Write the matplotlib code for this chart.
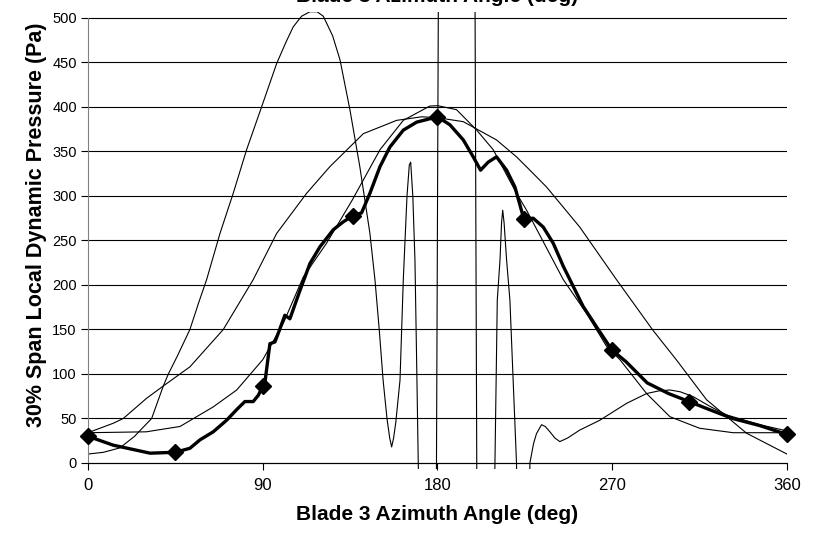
import matplotlib
matplotlib.use("Agg")
import matplotlib.pyplot as plt
from matplotlib import font_manager

plt.rcParams['font.family'] = ['Liberation Sans', 'DejaVu Sans']

# --- measured series (deg, Pa) ---
meas_x = [0, 13, 32, 45, 52.5, 57.7, 64.5, 71.4, 76.6, 80.8, 85.1, 87.7, 90, 91.1,
          93.7, 96.3, 98.9, 101.4, 104, 109.2, 114.3, 119.5, 126.3, 131.5, 136.6,
          140.9, 145.2, 150.4, 155.5, 162.4, 169.3, 180, 186.4, 193.3, 198.4, 202.2,
          206.1, 210.4, 215.6, 219.9, 224.5, 229.3, 234.5, 239.6, 244.8, 248.2, 255,
          261.9, 269.8, 277, 288, 299, 309.6, 320, 332, 346, 360]
meas_y = [30, 20, 11, 12, 16.5, 26, 35, 48, 60, 69, 69, 76, 86, 90,
          134, 136, 151, 166, 162, 194, 224, 243, 262, 271, 278,
          281, 303, 333, 355, 374, 383, 389, 380, 363, 344, 329,
          338, 344, 329, 310, 274, 275, 265, 247, 221, 206, 176,
          153, 127, 114, 90, 78, 69, 60, 50, 42, 32]

# points that carry a marker
mark_x = [0, 45, 90, 136.6, 180, 224.5, 269.8, 309.6, 360]
mark_y = [30, 12, 86, 278, 389, 274, 127, 69, 32]

# narrow bell curve
narrow_x = [0, 30, 47.4, 64.5, 76.6, 90, 100.6, 110.9, 122.9, 136, 150.4, 162.4, 176,
            180, 189.8, 200.2, 208.7, 220.7, 225.9, 244.8, 256.8, 267.1, 274, 287.7,
            299.7, 315, 332.3, 360]
narrow_y = [34, 35, 41, 63, 82, 116, 157, 209, 247, 295, 352, 385, 401,
            401.5, 397, 374, 352, 303, 284, 206, 168, 131, 116, 78,
            52, 39, 34, 34]

# broad bell curve
broad_x = [0, 13, 18.2, 30.2, 38.8, 52.5, 69.7, 85.1, 97.2, 112.6, 124.6, 141.8, 159,
           172, 180, 193.3, 210.4, 220.7, 227.6, 236.2, 253.3, 272.2, 291, 303,
           318.6, 329, 339.2, 360]
broad_y = [34, 44.6, 50, 72.7, 86.5, 108, 150, 206, 258, 303, 333, 370, 385,
           389, 388, 383.5, 363, 344, 329, 310, 265, 206, 149, 116,
           71, 52, 33.4, 10]

# oscillating fit curve
wild_x = [0, 8, 16.5, 24, 32.8, 38.8, 41.4, 46, 52.5, 57, 61.1, 68, 74.8, 81.7, 89.4,
          97.2, 102, 105.7, 110, 114.3, 118, 121.2, 126, 129.8, 134.9, 140, 145.2, 147.8,
          150, 152, 154, 155.4, 156.4, 157.4, 158.5, 160.7, 162.4, 164.3, 165.5, 166.2,
          167.3, 168.4, 169.3, 170.1, 171, 179.3, 180.6, 199.2, 200.4, 209, 209.6, 210.8,
          212.2, 213, 213.6, 214.3, 215.6, 217.3, 220.7, 221.5, 227, 227.6, 229.5, 231,
          233.6, 235.5, 237.9, 240.5, 243, 247, 253.3, 263.6, 277.4, 287.7, 294, 299.7,
          305, 311.7, 320, 328.9, 346, 360]
wild_y = [10, 12, 17, 30, 50, 86.5, 100, 120, 150, 180, 206, 258, 303, 352, 400,
          449, 473, 490, 502, 507, 507, 502, 480, 453, 397, 333, 258, 206,
          150, 93, 50, 28, 18, 28, 45, 93, 206, 300, 335, 338,
          300, 228, 110, 0, -100, -100, 600, 600, -100, -100, 0, 183,
          228, 270, 284, 270, 228, 183, 0, -100, -100, 0, 22, 33,
          43, 41, 35, 28, 24, 28, 37, 48, 67, 78, 81, 82,
          80, 74.5, 64, 54, 43, 36]

x_ticks = [0, 90, 180, 270, 360]
y_ticks = [0, 50, 100, 150, 200, 250, 300, 350, 400, 450, 500]

fig = plt.figure(figsize=(8.13, 5.35), dpi=100)
ax = fig.add_axes([0.1082, 0.1230, 0.8598, 0.855])

for y in y_ticks:
    ax.axhline(y, color='black', lw=0.8, zorder=1)

ax.plot(wild_x, wild_y, color='black', lw=0.8, zorder=2)
ax.plot(broad_x, broad_y, color='black', lw=0.8, zorder=2)
ax.plot(narrow_x, narrow_y, color='black', lw=0.8, zorder=2)
ax.plot(meas_x, meas_y, color='black', lw=2.4, zorder=3, solid_joinstyle='round')
ax.plot(mark_x, mark_y, 'D', color='black', ms=8, zorder=4, clip_on=False)

ax.set_xlim(0, 360)
ax.set_ylim(-7, 507)
ax.set_xticks(x_ticks)
ax.set_yticks(y_ticks)
ax.tick_params(axis='both', direction='out', length=5, width=0.8, labelsize=12, pad=3)
ax.tick_params(axis='x', pad=6)

# narrow face for tick numbers if there is one
names = {f.name for f in font_manager.fontManager.ttflist}
tick_family = ['Liberation Sans Narrow'] if 'Liberation Sans Narrow' in names else ['Liberation Sans']
for lab in ax.get_xticklabels() + ax.get_yticklabels():
    lab.set_family(tick_family)
    if tick_family == ['Liberation Sans']:
        lab.set_fontsize(10.5)

ax.spines['top'].set_visible(False)
ax.spines['right'].set_visible(False)
ax.spines['bottom'].set_position(('data', 0))
ax.spines['left'].set_bounds(0, 500)
ax.spines['left'].set_color('#808080')
ax.spines['bottom'].set_linewidth(0.8)
ax.spines['left'].set_linewidth(0.8)

fig.text(437 / 813, 1 - 520 / 535, 'Blade 3 Azimuth Angle (deg)', ha='center',
         va='baseline', fontsize=15, fontweight='bold')
fig.text(437 / 813, 1 - 2 / 535, 'Blade 3 Azimuth Angle (deg)', ha='center',
         va='baseline', fontsize=15, fontweight='bold')
fig.text(26 / 813, 1 - 225 / 535, '30% Span Local Dynamic Pressure (Pa)', ha='left',
         va='center', rotation=90, fontsize=15.5, fontweight='bold')

fig.savefig('out.png', dpi=100)
